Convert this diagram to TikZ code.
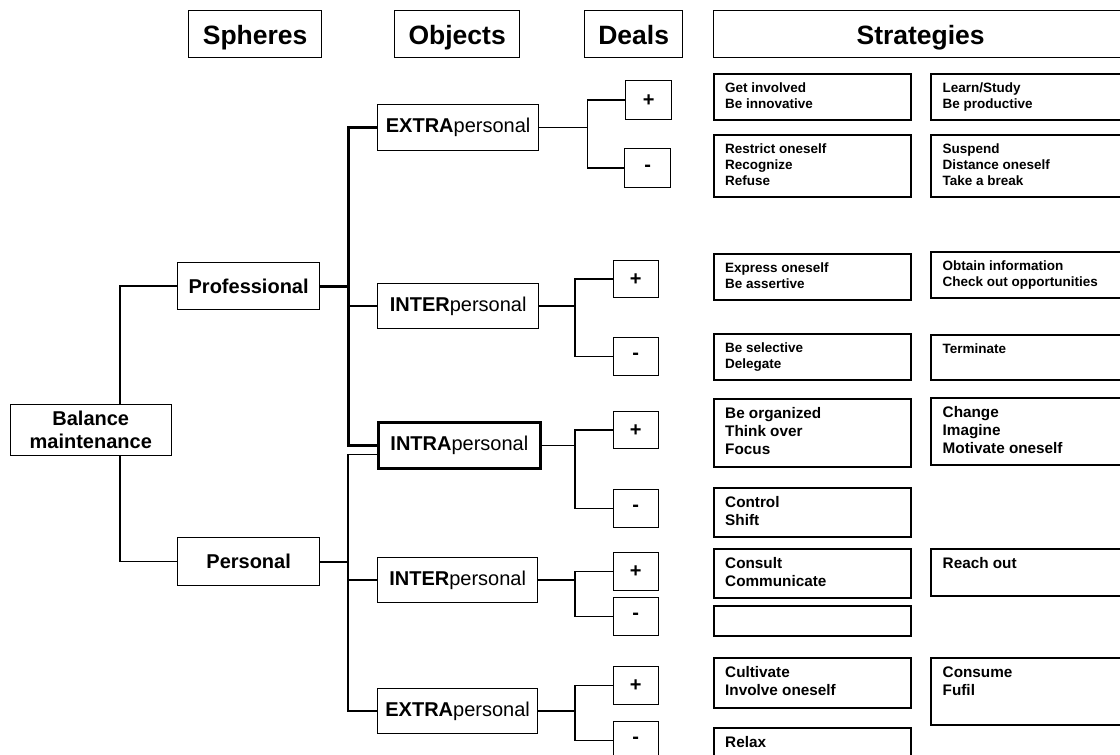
\documentclass[tikz,border=0pt]{standalone}
\usepackage{fontspec}
\setmainfont{Liberation Sans}
\usepackage{tikz}
\usetikzlibrary{calc}

\tikzset{
  box/.style={draw, line width=1.3pt, anchor=north west, inner sep=0pt},
  head/.style={box, font=\fontsize{26.5}{30}\selectfont\bfseries, minimum height=47, text height=21, text depth=0},
  obj/.style={box, font=\fontsize{20}{23}\selectfont, minimum width=161, minimum height=46},
  deal/.style={box, font=\fontsize{20}{23}\selectfont\bfseries, minimum width=45, minimum height=38},
  strat/.style={draw, line width=2pt, anchor=north west, inner sep=0pt, minimum width=197, minimum height=#1},
  stup/.style={anchor=north west, align=left, inner xsep=12.5pt, inner ysep=9.5pt, font=\fontsize{13.5}{16}\selectfont\bfseries},
  stlo/.style={anchor=north west, align=left, inner xsep=12.5pt, inner ysep=9.5pt, font=\fontsize{15.3}{18}\selectfont\bfseries},
  link/.style={line width=1.5pt},
  mid/.style={line width=2.2pt},
  fat/.style={line width=3pt},
}

\begin{document}
\begin{tikzpicture}[x=1pt, y=-1pt]

	\clip (0,0) rectangle (1120,755);

	% headings
	\node[head, minimum width=133] (hsph) at (188,10) {Spheres};
	\node[head, minimum width=125] (hobj) at (394,10) {Objects};
	\node[head, minimum width=98] (hdeal) at (584,10) {Deals};
	\node[head, minimum width=415] (hstrat) at (712.5,10) {Strategies};

	% root and spheres
	\node[box, align=center, font=\fontsize{20}{23}\selectfont\bfseries, minimum width=161, minimum height=51] (bal) at (9.6,404) {Balance\\maintenance};
	\node[box, font=\fontsize{20}{23}\selectfont\bfseries, minimum width=142, minimum height=47] (prof) at (177,262) {Professional};
	\node[box, font=\fontsize{20}{23}\selectfont\bfseries, minimum width=142, minimum height=48] (pers) at (177,537) {Personal};

	% objects
	\node[obj] (exa) at (377,104) {\textbf{EXTRA}personal};
	\node[obj, minimum height=45] (ina) at (377,283) {\textbf{INTER}personal};
	\node[obj, line width=2.8pt, minimum width=162] (intra) at (377,421) {\textbf{INTRA}personal};
	\node[obj, minimum width=160, minimum height=45] (inb) at (377,557) {\textbf{INTER}personal};
	\node[obj, minimum width=160, minimum height=45] (exb) at (377,688) {\textbf{EXTRA}personal};

	% deals
	\node[deal, minimum width=46, minimum height=39] (p1) at (625,80) {+};
	\node[deal, minimum width=46, minimum height=39] (m1) at (624,148) {-};
	\node[deal, minimum height=37] (p2) at (612.5,260) {+};
	\node[deal] (m2) at (612.5,337) {-};
	\node[deal, minimum height=37] (p3) at (612.5,411) {+};
	\node[deal] (m3) at (612.5,489) {-};
	\node[deal] (p4) at (612.5,552) {+};
	\node[deal] (m4) at (612.5,597) {-};
	\node[deal] (p5) at (612.5,666) {+};
	\node[deal] (m5) at (612.5,721) {-};

	% strategies
	\node[strat=46, label={[stup]north west:{Get involved\\Be innovative}}] (s1a) at (712.5,73) {};
	\node[strat=46, label={[stup]north west:{Learn/Study\\Be productive}}] (s1b) at (930,73) {};
	\node[strat=62, label={[stup]north west:{Restrict oneself\\Recognize\\Refuse}}] (s1c) at (712.5,134) {};
	\node[strat=62, label={[stup]north west:{Suspend\\Distance oneself\\Take a break}}] (s1d) at (930,134) {};

	\node[strat=46, label={[stup]north west:{Express oneself\\Be assertive}}] (s2a) at (712.5,253) {};
	\node[strat=46, label={[stup]north west:{Obtain information\\Check out opportunities}}] (s2b) at (930,251) {};
	\node[strat=46, label={[stup]north west:{Be selective\\Delegate}}] (s2c) at (712.5,333) {};
	\node[strat=45, label={[stup]north west:{Terminate}}] (s2d) at (930,334) {};

	\node[strat=68, label={[stlo]north west:{Be organized\\Think over\\Focus}}] (s3a) at (712.5,398) {};
	\node[strat=67, label={[stlo]north west:{Change\\Imagine\\Motivate oneself}}] (s3b) at (930,397) {};
	\node[strat=49, label={[stlo]north west:{Control\\Shift}}] (s3c) at (712.5,487) {};

	\node[strat=49, label={[stlo]north west:{Consult\\Communicate}}] (s4a) at (712.5,548) {};
	\node[strat=47, label={[stlo]north west:{Reach out}}] (s4b) at (930,548) {};
	\node[strat=30] (s4c) at (712.5,605) {};

	\node[strat=50, label={[stlo]north west:{Cultivate\\Involve oneself}}] (s5a) at (712.5,657) {};
	\node[strat=67, label={[stlo]north west:{Consume\\Fufil}}] (s5b) at (930,657) {};
	\node[strat=44, label={[stlo]north west:{Relax}}] (s5c) at (712.5,727) {};

	% junctions
	\coordinate (bx) at (120,0);
	\coordinate (ox) at (348,0);
	\coordinate (dx1) at (587.5,0);
	\coordinate (dx) at (575,0);

	% tree
	\draw[link] (bal.north -| bx) |- (prof.west);
	\draw[link] (bal.south -| bx) |- (pers.west);

	\draw[fat] (prof.east) -- (prof.east -| ox);
	\draw[fat] (exa.west) -| (ox |- intra.west) -- (intra.west);
	\draw[link] (ina.west) -- (ina.west -| ox);

	\draw[mid] (pers.east) -- (pers.east -| ox);
	\draw[link] ([yshift=-9pt]intra.west) -| (ox |- exb.west) -- (exb.west);
	\draw[link] (inb.west) -- (inb.west -| ox);

	\draw[link] (exa.east) -- (exa.east -| dx1);
	\draw[link] (p1.west) -| (dx1 |- m1.west) -- (m1.west);
	\draw[link] (ina.east) -- (ina.east -| dx);
	\draw[link] (p2.west) -| (dx |- m2.west) -- (m2.west);
	\draw[link] (intra.east) -- (intra.east -| dx);
	\draw[link] (p3.west) -| (dx |- m3.west) -- (m3.west);
	\draw[link] (inb.east) -- (inb.east -| dx);
	\draw[link] (p4.west) -| (dx |- m4.west) -- (m4.west);
	\draw[link] (exb.east) -- (exb.east -| dx);
	\draw[link] (p5.west) -| (dx |- m5.west) -- (m5.west);

\end{tikzpicture}
\end{document}
